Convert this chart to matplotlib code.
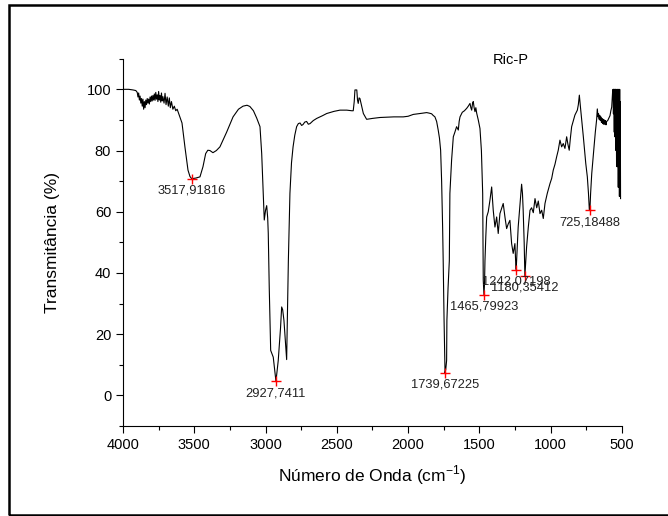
import matplotlib
matplotlib.use('Agg')
import matplotlib.pyplot as plt
from matplotlib.patches import Rectangle

plt.rcParams['font.family'] = ['Liberation Sans', 'DejaVu Sans']

# FTIR spectrum (wavenumber in cm-1, transmittance in %)
wavenumber = [
    4000, 3960, 3930, 3910, 3900, 3895, 3890, 3885, 3880, 3875, 3870, 3865,
    3860, 3855, 3850, 3845, 3840, 3835, 3830, 3825, 3820, 3815, 3810, 3805,
    3800, 3795, 3790, 3785, 3780, 3775, 3770, 3765, 3760, 3755, 3750, 3745,
    3740, 3735, 3730, 3725, 3720, 3712, 3705, 3698, 3690, 3682, 3675, 3668,
    3660, 3650, 3640, 3630, 3620, 3605, 3586, 3565, 3544, 3530, 3518, 3490,
    3460, 3439, 3420, 3405, 3390, 3369, 3345, 3320, 3273, 3228, 3190, 3158,
    3130, 3110, 3085, 3062, 3039, 3027, 3016, 3009, 3000, 2992, 2985, 2981,
    2974, 2968, 2964, 2946, 2927, 2911, 2895, 2887, 2880, 2871, 2852, 2845,
    2840, 2829, 2818, 2807, 2795, 2782, 2770, 2758, 2747, 2737, 2725, 2712,
    2700, 2688, 2665, 2641, 2600, 2571, 2520, 2478, 2430, 2395, 2385, 2378,
    2373, 2360, 2355, 2350, 2344, 2338, 2326, 2314, 2291, 2250, 2197, 2150,
    2100, 2034, 2000, 1964, 1930, 1900, 1870, 1850, 1835, 1825, 1812, 1800,
    1789, 1780, 1772, 1765, 1758, 1754, 1748, 1741, 1736, 1730, 1728, 1720,
    1711, 1707, 1695, 1683, 1672, 1660, 1648, 1642, 1636, 1620, 1605, 1589,
    1578, 1566, 1560, 1554, 1548, 1543, 1537, 1531, 1525, 1519, 1508, 1496,
    1486, 1477, 1473, 1468, 1464, 1461, 1455, 1449, 1438, 1426, 1414, 1403,
    1391, 1379, 1368, 1356, 1345, 1333, 1320, 1309, 1298, 1286, 1274, 1263,
    1257, 1251, 1246, 1242, 1235, 1228, 1216, 1204, 1198, 1193, 1186, 1181,
    1175, 1169, 1157, 1145, 1134, 1122, 1110, 1098, 1087, 1075, 1063, 1052,
    1040, 1024, 1005, 993, 982, 970, 958, 947, 935, 923, 912, 900,
    888, 879, 870, 862, 853, 840, 830, 813, 806, 799, 790, 780,
    771, 762, 754, 743, 735, 729, 725, 720, 712, 704, 696, 687,
    678, 673, 668, 664, 660, 656, 652, 648, 644, 640, 636, 632,
    628, 624, 620, 616, 612, 608, 600, 592, 584, 578, 572, 565,
    562, 560, 558, 556, 554, 552, 550, 548, 546, 544, 542, 540,
    538, 536, 534, 532, 530, 528, 526, 524, 522, 520, 518, 516,
    514, 512, 510,
]
transmittance = [
    100.0, 100.0, 99.8, 99.6, 99.0, 97.5, 98.8, 96.5, 97.8, 95.5, 97.0, 94.5,
    96.8, 93.5, 96.0, 94.0, 96.5, 95.0, 97.0, 95.5, 96.8, 95.2, 97.5, 96.0,
    97.8, 96.2, 98.0, 96.5, 98.5, 96.4, 99.0, 96.8, 98.2, 96.0, 99.3, 96.5,
    98.0, 95.8, 98.8, 96.2, 97.6, 95.5, 98.7, 95.0, 97.5, 94.5, 97.2, 94.0,
    96.0, 93.5, 94.5, 93.0, 93.5, 91.5, 89.0, 81.0, 73.6, 71.5, 70.8, 71.0,
    71.4, 74.7, 79.0, 80.1, 80.0, 79.3, 80.0, 81.2, 86.0, 91.0, 93.5, 94.5,
    94.8, 94.4, 93.0, 90.6, 87.8, 79.0, 66.0, 57.3, 60.5, 62.0, 58.0, 53.0,
    35.0, 22.0, 14.7, 12.5, 4.6, 11.4, 22.0, 28.9, 28.0, 24.5, 11.7, 30.0,
    44.0, 66.0, 76.0, 81.2, 85.0, 87.8, 88.8, 89.0, 88.2, 88.5, 89.3, 89.5,
    88.6, 88.8, 89.8, 90.5, 91.4, 92.1, 92.8, 93.2, 93.2, 93.0, 93.0, 96.0,
    99.8, 99.8, 96.5, 95.4, 97.2, 97.0, 94.5, 92.1, 90.2, 90.5, 90.8, 90.9,
    91.0, 91.0, 91.2, 91.8, 92.0, 92.2, 92.4, 92.2, 92.0, 91.5, 91.0, 89.5,
    86.7, 84.0, 80.1, 70.0, 55.0, 44.0, 25.0, 7.3, 8.5, 11.4, 24.5, 35.0,
    44.0, 66.0, 76.9, 84.5, 86.0, 87.8, 86.7, 89.5, 91.0, 92.5, 93.0, 93.8,
    94.5, 95.4, 94.0, 93.2, 95.5, 96.0, 94.0, 92.7, 94.0, 92.2, 90.0, 87.2,
    80.0, 66.0, 37.6, 32.9, 36.6, 44.0, 52.0, 58.3, 60.0, 63.8, 68.1, 60.5,
    55.0, 58.3, 52.9, 59.4, 61.0, 62.7, 58.0, 54.5, 56.0, 57.2, 49.6, 46.4,
    48.0, 49.6, 44.0, 41.1, 48.0, 55.0, 62.0, 69.0, 66.0, 60.5, 50.0, 39.0,
    44.0, 48.5, 55.0, 60.5, 61.3, 59.7, 64.3, 61.3, 63.5, 59.4, 60.5, 57.8,
    62.7, 66.0, 69.2, 70.9, 73.6, 75.5, 78.0, 80.1, 83.4, 81.2, 82.3, 80.7,
    84.5, 82.0, 80.1, 84.0, 87.8, 90.0, 91.6, 93.2, 95.0, 98.1, 93.6, 89.0,
    84.5, 80.0, 75.8, 71.4, 66.0, 60.7, 60.5, 66.0, 72.5, 77.0, 81.2, 86.0,
    90.0, 93.6, 91.0, 92.0, 90.2, 91.5, 89.8, 91.0, 89.2, 90.5, 88.8, 90.2,
    88.6, 90.0, 88.6, 89.8, 88.4, 89.5, 89.8, 90.6, 91.4, 93.0, 94.2, 99.8,
    100.0, 92.0, 100.0, 95.0, 86.0, 100.0, 84.5, 100.0, 90.0, 100.0, 80.0, 98.0,
    75.0, 100.0, 74.7, 100.0, 76.0, 99.0, 68.0, 100.0, 70.0, 98.0, 65.0, 100.0,
    66.0, 96.0, 64.3,
]

# picked peaks
peak_x = [3517.91816, 2927.7411, 1739.67225, 1465.79923, 1242.07198, 1180.35412, 725.18488]
peak_y = [70.8, 4.6, 7.3, 32.9, 41.1, 39.0, 60.5]
peak_labels = ['3517,91816', '2927,7411', '1739,67225', '1465,79923',
               '1242,07198', '1180,35412', '725,18488']

fig = plt.figure(figsize=(6.68, 5.16), dpi=100)
ax = fig.add_axes([0.1841, 0.1744, 0.747, 0.7118])

ax.plot(wavenumber, transmittance, color='black', lw=0.8)
ax.plot(peak_x, peak_y, linestyle='none', marker='+', color='red',
        markersize=7, markeredgewidth=1.0)
for x, y, s in zip(peak_x, peak_y, peak_labels):
    ax.annotate(s, (x, y), xytext=(0, -8.5), textcoords='offset points',
                ha='center', va='center', fontsize=9.3, color='#222222')

ax.set_xlim(4000, 500)
ax.set_ylim(-10, 110)
ax.set_xticks([4000, 3500, 3000, 2500, 2000, 1500, 1000, 500])
ax.set_xticks([3750, 3250, 2750, 2250, 1750, 1250, 750], minor=True)
ax.set_yticks([0, 20, 40, 60, 80, 100])
ax.set_yticks([-10, 10, 30, 50, 70, 90, 110], minor=True)
ax.tick_params(which='major', direction='out', length=5, width=0.8, labelsize=10.5)
ax.tick_params(which='minor', direction='out', length=3, width=0.8)
for side in ['top', 'right']:
    ax.spines[side].set_visible(False)
for side in ['left', 'bottom']:
    ax.spines[side].set_linewidth(0.8)

ax.set_xlabel('Número de Onda (cm$^{\\mathregular{-1}}$)', fontsize=12.5, labelpad=8)
ax.set_ylabel('Transmitância (%)', fontsize=12.5, labelpad=19)
ax.text(1279, 109.5, 'Ric-P', ha='center', va='center', fontsize=10.5)

# outer frame around the page
fig.patches.append(Rectangle((0.0142, 0.002), 1.2, 0.988, transform=fig.transFigure,
                             fill=False, edgecolor='black', lw=1.8))

fig.savefig('out.png', dpi=100)
